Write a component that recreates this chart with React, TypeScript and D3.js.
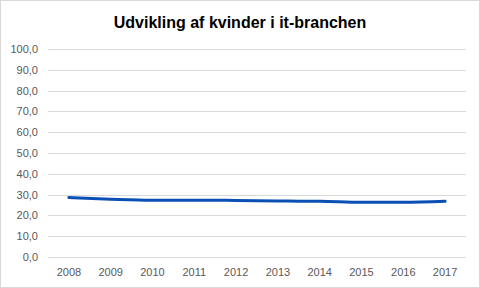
import React from "react";
import * as d3 from "d3";

const years = ["2008", "2009", "2010", "2011", "2012", "2013", "2014", "2015", "2016", "2017"];
const values = [28.6, 27.8, 27.3, 27.3, 27.2, 26.9, 26.8, 26.3, 26.3, 26.8];
const yTicks = [0, 10, 20, 30, 40, 50, 60, 70, 80, 90, 100];
const title = "Udvikling af kvinder i it-branchen";

export default function App() {
  const W = 480, H = 288;
  const left = 48, right = 466, top = 49, bottom = 257;
  const x = d3.scaleBand<string>().domain(years).range([left, right]);
  const y = d3.scaleLinear().domain([0, 100]).range([bottom, top]);
  const line = d3
    .line<number>()
    .x((_, i) => (x(years[i]) as number) + x.bandwidth() / 2)
    .y((d) => y(d))
    .curve(d3.curveMonotoneX);
  const fmt = (v: number) => v.toFixed(1).replace(".", ",");
  return (
    <div style={{ position: "fixed", left: 0, top: 0 }}>
      <svg width={W} height={H} style={{ display: "block" }}>
        <rect x={0.5} y={0.5} width={W - 1} height={H - 1} fill="#fff" stroke="#d9d9d9" />
        <text x={W / 2} y={28} textAnchor="middle" fontFamily="Liberation Sans, Arial, sans-serif" fontWeight="bold" fontSize={16} fill="#000">
          {title}
        </text>
        {yTicks.map((t) => (
          <g key={t}>
            <line x1={left} x2={right} y1={Math.round(y(t)) + 0.5} y2={Math.round(y(t)) + 0.5} stroke="#d9d9d9" strokeWidth={1} />
            <text x={38} y={y(t) + 4} textAnchor="end" fontFamily="Liberation Sans, Arial, sans-serif" fontSize={11} fill="#595959">
              {fmt(t)}
            </text>
          </g>
        ))}
        {years.map((yr) => (
          <text key={yr} x={(x(yr) as number) + x.bandwidth() / 2} y={276} textAnchor="middle" fontFamily="Liberation Sans, Arial, sans-serif" fontSize={11} fill="#595959">
            {yr}
          </text>
        ))}
        <path d={line(values) || ""} fill="none" stroke="#0a50b4" strokeWidth={3} strokeLinecap="round" />
      </svg>
    </div>
  );
}
